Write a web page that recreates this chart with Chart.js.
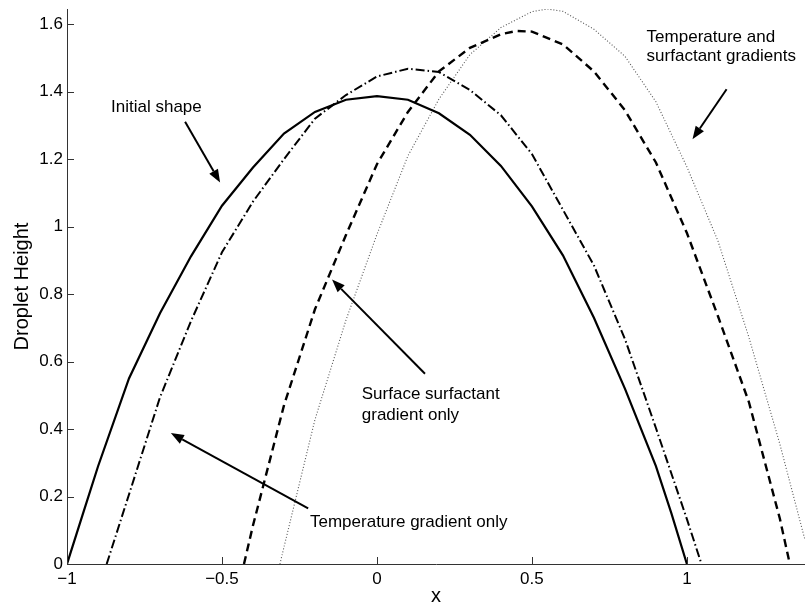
<!DOCTYPE html>
<html><head><meta charset="utf-8">
<script src="https://cdn.jsdelivr.net/npm/chart.js@4/dist/chart.umd.min.js"></script>
<style>html,body{margin:0;padding:0;background:#fff;overflow:hidden}</style>
</head><body>
<div style="width:805px;height:608px"><canvas id="c" width="805" height="608"></canvas></div>
<script>
// Initial shape (solid)
const xInitial = [-1, -0.95, -0.9, -0.8, -0.7, -0.6, -0.5, -0.4, -0.3, -0.2, -0.1, 0, 0.1, 0.2, 0.3, 0.4, 0.5, 0.6, 0.7, 0.8, 0.9, 0.95, 1];
const yInitial = [0, 0.145, 0.289, 0.55, 0.743, 0.912, 1.062, 1.175, 1.276, 1.34, 1.376, 1.387, 1.376, 1.336, 1.272, 1.18, 1.06, 0.915, 0.73, 0.52, 0.29, 0.15, 0];
// Temperature gradient only (dash-dot)
const xTemp = [-0.872, -0.8, -0.7, -0.6, -0.5, -0.4, -0.3, -0.2, -0.1, 0, 0.1, 0.2, 0.3, 0.4, 0.5, 0.6, 0.7, 0.8, 0.9, 1.0, 1.047];
const yTemp = [0, 0.206, 0.494, 0.72, 0.924, 1.074, 1.2, 1.32, 1.39, 1.445, 1.468, 1.458, 1.405, 1.33, 1.215, 1.05, 0.885, 0.667, 0.403, 0.133, 0];
// Surface surfactant gradient only (dashed)
const xSurf = [-0.429, -0.4, -0.3, -0.2, -0.1, 0, 0.1, 0.2, 0.3, 0.4, 0.45, 0.5, 0.6, 0.7, 0.8, 0.9, 1.0, 1.1, 1.2, 1.3, 1.332];
const ySurf = [0, 0.114, 0.47, 0.755, 0.975, 1.185, 1.34, 1.46, 1.53, 1.57, 1.58, 1.578, 1.54, 1.46, 1.345, 1.19, 0.981, 0.735, 0.48, 0.134, 0];
// Temperature and surfactant gradients (dotted)
const xBoth = [-0.313, -0.3, -0.2, -0.1, 0, 0.1, 0.2, 0.3, 0.4, 0.5, 0.55, 0.6, 0.7, 0.8, 0.9, 1.0, 1.1, 1.2, 1.3, 1.381, 1.41];
const yBoth = [0, 0.05, 0.428, 0.723, 0.977, 1.21, 1.378, 1.51, 1.59, 1.637, 1.645, 1.638, 1.585, 1.505, 1.37, 1.177, 0.958, 0.672, 0.355, 0.071, 0];

const xTicks = [-1, -0.5, 0, 0.5, 1];
const yTicks = [0, 0.2, 0.4, 0.6, 0.8, 1, 1.2, 1.4, 1.6];

// Annotation texts (data coordinates of text start)
const noteLines = ["Initial shape", "Temperature and", "surfactant gradients", "Surface surfactant", "gradient only", "Temperature gradient only"];
const noteX = [-0.858, 0.870, 0.870, -0.049, -0.049, -0.216];
const noteY = [1.355, 1.562, 1.506, 0.503, 0.441, 0.123];
// Arrows (data coordinates, tail -> head)
const arrowX0 = [-0.619, 1.128, 0.155, -0.222];
const arrowY0 = [1.311, 1.407, 0.564, 0.165];
const arrowX1 = [-0.506, 1.018, -0.145, -0.665];
const arrowY1 = [1.131, 1.259, 0.843, 0.388];

const FONT = "'Liberation Sans', Arial, Helvetica, sans-serif";
const pts = (xs, ys) => xs.map((x, i) => ({x: x, y: ys[i]}));
const fmt = v => (v < 0 ? '\u2212' + String(-v) : String(v));

const decor = {
  id: 'decor',
  afterDatasetsDraw(chart) {
    const ctx = chart.ctx, xs = chart.scales.x, ys = chart.scales.y, a = chart.chartArea;
    ctx.save();
    ctx.strokeStyle = '#333'; ctx.lineWidth = 1;
    xTicks.forEach(v => { const p = Math.round(xs.getPixelForValue(v)) + 0.5; ctx.beginPath(); ctx.moveTo(p, a.bottom); ctx.lineTo(p, a.bottom - 7); ctx.stroke(); });
    yTicks.forEach(v => { const p = Math.round(ys.getPixelForValue(v)) + 0.5; ctx.beginPath(); ctx.moveTo(a.left, p); ctx.lineTo(a.left + 7, p); ctx.stroke(); });
    ctx.fillStyle = '#000'; ctx.font = '17px ' + FONT; ctx.textAlign = 'left'; ctx.textBaseline = 'middle';
    noteLines.forEach((t, i) => ctx.fillText(t, xs.getPixelForValue(noteX[i]), ys.getPixelForValue(noteY[i])));
    ctx.strokeStyle = '#000'; ctx.lineWidth = 2;
    arrowX0.forEach((x0, i) => {
      const px0 = xs.getPixelForValue(x0), py0 = ys.getPixelForValue(arrowY0[i]);
      const px1 = xs.getPixelForValue(arrowX1[i]), py1 = ys.getPixelForValue(arrowY1[i]);
      const ang = Math.atan2(py1 - py0, px1 - px0), L = 13, W = 5;
      const bx = px1 - L * Math.cos(ang), by = py1 - L * Math.sin(ang);
      ctx.beginPath(); ctx.moveTo(px0, py0); ctx.lineTo(bx, by); ctx.stroke();
      ctx.beginPath(); ctx.moveTo(px1, py1);
      ctx.lineTo(bx + W * Math.sin(ang), by - W * Math.cos(ang));
      ctx.lineTo(bx - W * Math.sin(ang), by + W * Math.cos(ang));
      ctx.closePath(); ctx.fillStyle = '#000'; ctx.fill();
    });
    ctx.restore();
  }
};

new Chart(document.getElementById('c'), {
  type: 'scatter',
  data: {
    datasets: [
      {label: 'Initial shape', data: pts(xInitial, yInitial), showLine: true, borderColor: '#000', borderWidth: 2.2, pointRadius: 0, tension: 0},
      {label: 'Temperature gradient only', data: pts(xTemp, yTemp), showLine: true, borderColor: '#000', borderWidth: 2, borderDash: [9, 3, 1.5, 3], pointRadius: 0, tension: 0},
      {label: 'Surface surfactant gradient only', data: pts(xSurf, ySurf), showLine: true, borderColor: '#000', borderWidth: 2.4, borderDash: [8, 5], pointRadius: 0, tension: 0},
      {label: 'Temperature and surfactant gradients', data: pts(xBoth, yBoth), showLine: true, borderColor: '#555', borderWidth: 1.1, borderDash: [1, 2], pointRadius: 0, tension: 0}
    ]
  },
  options: {
    responsive: false, animation: false, devicePixelRatio: 1,
    layout: {padding: {top: 9, right: 0, left: 0, bottom: 0}},
    plugins: {legend: {display: false}, tooltip: {enabled: false}},
    scales: {
      x: {
        type: 'linear', min: -1, max: 1.381,
        afterBuildTicks: s => { s.ticks = xTicks.map(v => ({value: v})); },
        afterFit: s => { s.height = 44; s.paddingLeft = 0; s.paddingRight = 0; },
        grid: {display: true, drawOnChartArea: false, drawTicks: false},
        border: {display: true, color: '#333', width: 1},
        ticks: {padding: 5, color: '#000', font: {family: FONT, size: 17}, callback: v => fmt(v), maxRotation: 0, autoSkip: false},
        title: {display: true, text: 'x', color: '#000', font: {family: FONT, size: 20}, padding: {top: 0, bottom: 0}}
      },
      y: {
        type: 'linear', min: 0, max: 1.645,
        afterBuildTicks: s => { s.ticks = yTicks.map(v => ({value: v})); },
        afterFit: s => { s.width = 67; s.paddingTop = 0; s.paddingBottom = 0; },
        grid: {display: true, drawOnChartArea: false, drawTicks: false},
        border: {display: true, color: '#333', width: 1},
        ticks: {padding: 4, color: '#000', font: {family: FONT, size: 17}, callback: v => fmt(v), autoSkip: false},
        title: {display: true, text: 'Droplet Height', color: '#000', font: {family: FONT, size: 20}, padding: {top: 10, bottom: 0}}
      }
    }
  },
  plugins: [decor]
});
</script>
</body></html>
